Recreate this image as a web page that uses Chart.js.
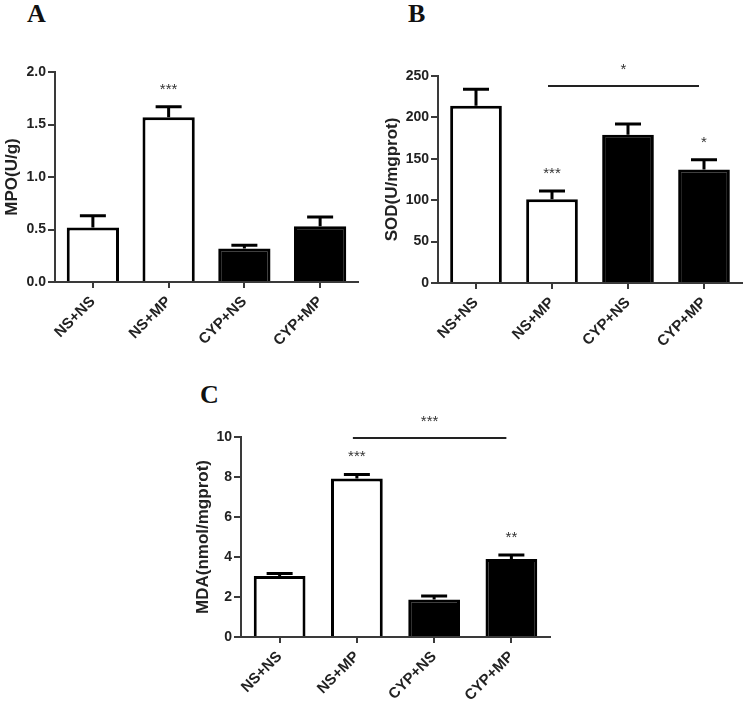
<!DOCTYPE html>
<html>
<head>
<meta charset="utf-8">
<script src="https://cdn.jsdelivr.net/npm/chart.js@4.4.1/dist/chart.umd.min.js"></script>
<style>
  body { margin: 0; background: #fff; }
  #wrap { position: relative; width: 744px; height: 706px; overflow: hidden; }
  canvas { position: absolute; }
  .tag { position: absolute; font: bold 26px "Liberation Serif", "Times New Roman", serif; line-height: 26px; color: #111; }
</style>
</head>
<body>
<div id="wrap">
  <div class="tag" style="left:27px;top:1px">A</div>
  <div class="tag" style="left:408px;top:1px">B</div>
  <div class="tag" style="left:200px;top:382px">C</div>
  <canvas id="chartA" width="372" height="380" style="left:0;top:0"></canvas>
  <canvas id="chartB" width="372" height="380" style="left:372px;top:0"></canvas>
  <canvas id="chartC" width="400" height="326" style="left:180px;top:380px"></canvas>
</div>
<script>
// groups
const groups = ['NS+NS', 'NS+MP', 'CYP+NS', 'CYP+MP'];

// A: MPO
const mpoMean = [0.52, 1.57, 0.32, 0.53];
const mpoTop = [0.63, 1.67, 0.35, 0.62];   // mean + error
const mpoStars = ['', '***', '', ''];
const mpoTicks = [0, 0.5, 1.0, 1.5, 2.0];

// B: SOD
const sodMean = [214, 101, 179, 137];
const sodTop = [234, 111, 192, 149];
const sodStars = ['', '***', '', '*'];
const sodTicks = [0, 50, 100, 150, 200, 250];

// C: MDA
const mdaMean = [3.05, 7.92, 1.88, 3.9];
const mdaTop = [3.17, 8.13, 2.05, 4.1];
const mdaStars = ['', '***', '', '**'];
const mdaTicks = [0, 2, 4, 6, 8, 10];

const fills = ['#ffffff', '#ffffff', '#000000', '#000000'];
const FONT = '"Liberation Sans", Arial, Helvetica, sans-serif';
const AXIS = '#3a3a3a';

// error bars, stars and comparison line
const extras = {
    id: 'extras',
    afterDatasetsDraw(chart, args, opts) {
        const ctx = chart.ctx;
        const y = chart.scales.y;
        const bars = chart.getDatasetMeta(0).data;
        ctx.save();
        ctx.strokeStyle = '#000';
        ctx.lineWidth = 3;
        opts.top.forEach((v, i) => {
            const bx = bars[i].x;
            const t = y.getPixelForValue(v);
            const b = y.getPixelForValue(opts.mean[i]);
            ctx.beginPath();
            ctx.moveTo(bx, b);
            ctx.lineTo(bx, t);
            ctx.moveTo(bx - 13, t);
            ctx.lineTo(bx + 13, t);
            ctx.stroke();
        });

        ctx.fillStyle = '#333';
        ctx.font = '15px ' + FONT;
        ctx.textAlign = 'center';
        ctx.textBaseline = 'alphabetic';
        opts.stars.forEach((s, i) => {
            if (!s) return;
            const t = y.getPixelForValue(opts.top[i]);
            ctx.fillText(s, bars[i].x, t - 22 + 9);
        });

        // comparison line
        const br = opts.bracket;
        if (br) {
            const x1 = bars[br.from].x - 4;
            const x2 = bars[br.to].x - 5;
            const ly = y.getPixelForValue(br.value);
            ctx.strokeStyle = '#222';
            ctx.lineWidth = 2;
            ctx.beginPath();
            ctx.moveTo(x1, ly);
            ctx.lineTo(x2, ly);
            ctx.stroke();
            ctx.fillText(br.label, (x1 + x2) / 2, ly - 21 + 9);
        }
        ctx.restore();
    }
};

function makeChart(id, mean, top, stars, ticks, yTitle, box, bracket, fmt) {
    const ctx = document.getElementById(id).getContext('2d');
    return new Chart(ctx, {
        type: 'bar',
        data: {
            labels: groups,
            datasets: [{
                data: mean,
                backgroundColor: fills,
                borderColor: '#000',
                borderWidth: 3,
                borderSkipped: 'bottom',
                barPercentage: box.bar,
                categoryPercentage: 1.0
            }]
        },
        options: {
            responsive: false,
            animation: false,
            devicePixelRatio: 1,
            layout: { padding: { left: 0, right: box.right, top: box.top, bottom: 0 } },
            plugins: {
                legend: { display: false },
                tooltip: { enabled: false },
                extras: { mean: mean, top: top, stars: stars, bracket: bracket }
            },
            scales: {
                x: {
                    grid: { display: true, drawOnChartArea: false, offset: false, color: AXIS, lineWidth: 2, tickLength: 6 },
                    border: { display: true, color: AXIS, width: 2 },
                    ticks: {
                        color: '#222', minRotation: 45, maxRotation: 45, padding: 5,
                        font: { family: FONT, size: 15, weight: 'bold' }
                    },
                    afterFit: s => { s.height = box.xh; }
                },
                y: {
                    min: ticks[0],
                    max: ticks[ticks.length - 1],
                    afterBuildTicks: s => { s.ticks = ticks.map(v => ({ value: v })); },
                    grid: { display: true, drawOnChartArea: false, color: AXIS, lineWidth: 2, tickLength: 7 },
                    border: { display: true, color: AXIS, width: 2 },
                    ticks: {
                        color: '#222', padding: 2,
                        font: { family: FONT, size: 14, weight: 'bold' },
                        callback: v => fmt(v)
                    },
                    title: {
                        display: true, text: yTitle, color: '#222', padding: box.tp,
                        font: { family: FONT, size: 17, weight: 'bold' }
                    },
                    afterFit: s => { s.width = box.yw; }
                }
            }
        },
        plugins: [extras]
    });
}

makeChart('chartA', mpoMean, mpoTop, mpoStars, mpoTicks, 'MPO(U/g)',
    { yw: 55, xh: 98, top: 72, right: 14, bar: 0.69, tp: 2 }, null, v => v.toFixed(1));
makeChart('chartB', sodMean, sodTop, sodStars, sodTicks, 'SOD(U/mgprot)',
    { yw: 66, xh: 97, top: 76, right: 2, bar: 0.68, tp: 10 }, { from: 1, to: 3, value: 238, label: '*' }, v => String(v));
makeChart('chartC', mdaMean, mdaTop, mdaStars, mdaTicks, 'MDA(nmol/mgprot)',
    { yw: 61, xh: 69, top: 57, right: 30, bar: 0.67, tp: 13 }, { from: 1, to: 3, value: 9.95, label: '***' }, v => String(v));
</script>
</body>
</html>
